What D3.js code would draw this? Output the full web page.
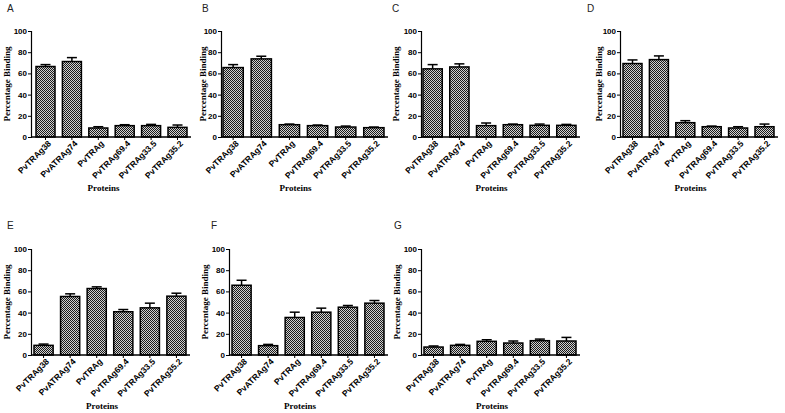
<!DOCTYPE html>
<html>
<head>
<meta charset="utf-8">
<script src="https://cdn.jsdelivr.net/npm/d3@7"></script>
<style>
  body { margin: 0; background: #fff; }
  svg { display: block; }
  .tick text { font-family: Arial, "Liberation Sans", sans-serif; font-weight: bold; }
</style>
</head>
<body>
<div id="chart"></div>
<script>
const proteins = ["PvTRAg38", "PvATRAg74", "PvTRAg", "PvTRAg69.4", "PvTRAg33.5", "PvTRAg35.2"];
const panelNames = ["A", "B", "C", "D", "E", "F", "G"];
const yTicks = [0, 20, 40, 60, 80, 100];

// mean % binding per panel
const meanA = [66.5, 71.2, 8.5, 10.7, 10.7, 9.1];
const meanB = [65.5, 73.7, 11.6, 10.7, 9.4, 8.8];
const meanC = [64.3, 66.1, 10.7, 11.6, 11.0, 11.0];
const meanD = [69.3, 73.0, 13.5, 9.7, 8.5, 9.7];
const meanE = [9.1, 55.2, 62.7, 40.8, 44.5, 55.5];
const meanF = [65.8, 8.8, 35.4, 40.4, 45.1, 48.9];
const meanG = [7.5, 9.1, 12.9, 11.3, 13.5, 13.2];

// error (upper whisker only)
const errA = [1.8, 3.7, 1.2, 0.9, 1.2, 2.2];
const errB = [2.8, 2.5, 0.6, 0.6, 0.9, 0.6];
const errC = [4.0, 2.9, 2.5, 0.6, 1.2, 0.9];
const errD = [3.4, 3.5, 1.9, 0.6, 1.2, 2.5];
const errE = [1.2, 2.5, 1.6, 2.1, 4.4, 2.8];
const errF = [4.7, 1.2, 5.0, 3.8, 1.6, 2.5];
const errG = [1.0, 0.9, 1.5, 1.9, 1.5, 3.4];

const means = [meanA, meanB, meanC, meanD, meanE, meanF, meanG];
const errs = [errA, errB, errC, errD, errE, errF, errG];

// panel layout: y-axis x, bar span, top/bottom of plot, title offset, letter pos
const layout = [
  { ax: 31,  b0: 36,  b1: 187, top: 31,  bot: 137, tOff: 24, lx: 7,   ly: 12 },
  { ax: 221, b0: 223, b1: 384, top: 31,  bot: 137, tOff: 18, lx: 202, ly: 12 },
  { ax: 421, b0: 423, b1: 576, top: 31,  bot: 137, tOff: 25, lx: 392, ly: 12 },
  { ax: 620, b0: 623, b1: 774, top: 31,  bot: 137, tOff: 21, lx: 587, ly: 12 },
  { ax: 31,  b0: 34,  b1: 186, top: 249, bot: 355, tOff: 24, lx: 7,   ly: 229 },
  { ax: 229, b0: 232, b1: 384, top: 249, bot: 355, tOff: 24, lx: 211, ly: 229 },
  { ax: 421, b0: 424, b1: 576, top: 249, bot: 355, tOff: 24, lx: 394, ly: 229 }
];

const width = 785, height = 413;

const svg = d3.select("#chart")
  .append("svg")
  .attr("width", width)
  .attr("height", height);

// checker fill like the printed bars
const pat = svg.append("defs")
  .append("pattern")
  .attr("id", "checker")
  .attr("patternUnits", "userSpaceOnUse")
  .attr("width", 2)
  .attr("height", 2);
pat.append("rect").attr("width", 2).attr("height", 2).attr("fill", "#d0d0d0");
pat.append("rect").attr("width", 1).attr("height", 1).attr("fill", "#1a1a1a");
pat.append("rect").attr("x", 1).attr("y", 1).attr("width", 1).attr("height", 1).attr("fill", "#1a1a1a");

layout.forEach((L, i) => {
  const g = svg.append("g");
  const data = proteins.map((p, j) => ({ name: p, v: means[i][j], e: errs[i][j] }));

  let xScale = d3.scaleBand()
    .domain(proteins)
    .range([L.b0, L.b1])
    .paddingInner(0.28)
    .paddingOuter(0);

  let yScale = d3.scaleLinear()
    .domain([0, 100])
    .range([L.bot, L.top]);

  // bars
  g.selectAll("rect.bar")
    .data(data)
    .enter()
    .append("rect")
    .attr("class", "bar")
    .attr("x", d => xScale(d.name))
    .attr("y", d => yScale(d.v))
    .attr("width", xScale.bandwidth())
    .attr("height", d => yScale(0) - yScale(d.v))
    .attr("fill", "url(#checker)")
    .attr("stroke", "#000")
    .attr("stroke-width", 1.5);

  // error bars
  const capW = 10;
  g.selectAll("line.err")
    .data(data)
    .enter()
    .append("line")
    .attr("x1", d => xScale(d.name) + xScale.bandwidth() / 2)
    .attr("x2", d => xScale(d.name) + xScale.bandwidth() / 2)
    .attr("y1", d => yScale(d.v))
    .attr("y2", d => yScale(d.v + d.e))
    .attr("stroke", "#000")
    .attr("stroke-width", 1.5);
  g.selectAll("line.cap")
    .data(data)
    .enter()
    .append("line")
    .attr("x1", d => xScale(d.name) + xScale.bandwidth() / 2 - capW / 2)
    .attr("x2", d => xScale(d.name) + xScale.bandwidth() / 2 + capW / 2)
    .attr("y1", d => yScale(d.v + d.e))
    .attr("y2", d => yScale(d.v + d.e))
    .attr("stroke", "#000")
    .attr("stroke-width", 1.5);

  // y axis
  g.append("g")
    .attr("transform", "translate(" + L.ax + ",0)")
    .call(d3.axisLeft(yScale).tickValues(yTicks).tickSize(3).tickPadding(1))
    .call(a => a.select(".domain").attr("stroke-width", 1.2))
    .call(a => a.selectAll(".tick text").style("font-size", "8px"));

  // x axis
  const xAxis = g.append("g")
    .attr("transform", "translate(0," + L.bot + ")")
    .call(d3.axisBottom(xScale).tickSize(3).tickSizeOuter(0));
  xAxis.select(".domain")
    .attr("d", "M" + L.ax + ",0H" + (L.b1 + 4))
    .attr("stroke-width", 1.5);
  // rotated labels hang from the tick
  xAxis.selectAll(".tick text")
    .style("font-size", "8.5px")
    .style("text-anchor", "end")
    .attr("x", 0)
    .attr("y", 0)
    .attr("dy", "0.35em")
    .attr("transform", "translate(4,5) rotate(-45)");

  // y title
  g.append("text")
    .text("Percentage Binding")
    .attr("transform", "translate(" + (L.ax - L.tOff) + "," + ((L.top + L.bot) / 2) + ") rotate(-90)")
    .attr("text-anchor", "middle")
    .attr("dy", "0.35em")
    .style("font-family", "'Liberation Serif', 'Times New Roman', serif")
    .style("font-weight", "bold")
    .style("font-size", "9px");

  // x title
  g.append("text")
    .text("Proteins")
    .attr("x", (L.b0 + L.b1) / 2 - 8)
    .attr("y", L.bot + 54)
    .attr("text-anchor", "middle")
    .style("font-family", "'Liberation Serif', 'Times New Roman', serif")
    .style("font-weight", "bold")
    .style("font-size", "9px");

  // panel letter
  g.append("text")
    .text(panelNames[i])
    .attr("x", L.lx)
    .attr("y", L.ly)
    .style("font-family", "Arial, 'Liberation Sans', sans-serif")
    .style("font-size", "10px")
    .attr("fill", "#222");
});
</script>
</body>
</html>
